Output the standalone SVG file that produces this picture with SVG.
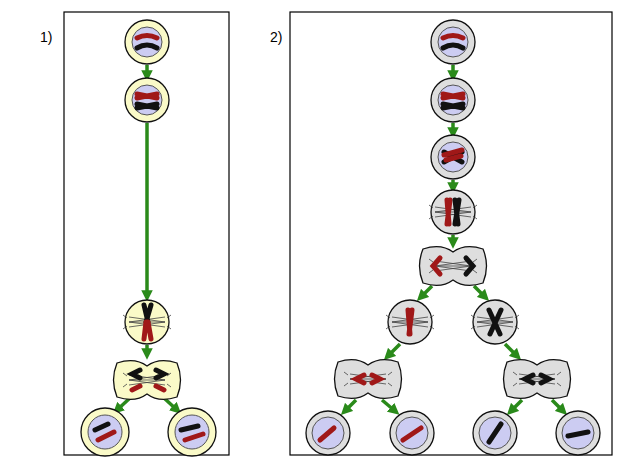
<svg xmlns="http://www.w3.org/2000/svg" width="617" height="467" viewBox="0 0 617 467">
<defs>
<style>
.panel{fill:#fff;stroke:#000;stroke-width:1.2}
.lbl{font-family:"Liberation Sans",Arial,sans-serif;font-size:14px}
.cy{fill:#fafac8;stroke:#111;stroke-width:1.3}
.gy{fill:#dedede;stroke:#111;stroke-width:1.3}
.nu{fill:#ccccf2;stroke:#555;stroke-width:1}
.red{stroke:#a01818;stroke-width:5;stroke-linecap:round;fill:none}
.blk{stroke:#111;stroke-width:5;stroke-linecap:round;fill:none}
.sp{stroke:#444;stroke-width:0.8;fill:none}
.ar{stroke:#2a8a1a;stroke-width:3.5;fill:none;marker-end:url(#ah)}
</style>
<marker id="ah" viewBox="0 0 10 10" refX="5" refY="5" markerWidth="3.3" markerHeight="3.3" orient="auto"><path d="M0,0L10,5L0,10z" fill="#2a8a1a"/></marker>
<path id="db" d="M-30,-17 Q-12,-23 0,-14 Q12,-23 30,-17 Q37,0 30,17 Q12,23 0,14 Q-12,23 -30,17 Q-37,0 -30,-17z"/>
<g id="spin"><path class="sp" d="M-18,0L18,0M-18,0L18,-5M-18,0L18,5M18,0L-18,-5M18,0L-18,5M-20,-4l-4,-3M-20,4l-4,3M20,-4l4,-3M20,4l4,3"/></g>
</defs>
<rect class="panel" x="64" y="12" width="165" height="443"/>
<rect class="panel" x="290" y="12" width="322" height="443"/>
<text class="lbl" x="40" y="42">1)</text>
<text class="lbl" x="270" y="42">2)</text>
<g id="connectors">
<path class="ar" d="M147,65V76"/>
<path class="ar" d="M147,123V296"/>
<path class="ar" d="M147,345V354"/>
<path class="ar" d="M130,398L117,410"/>
<path class="ar" d="M164,398L177,410"/>
<path class="ar" d="M453,65V76"/>
<path class="ar" d="M453,123V133"/>
<path class="ar" d="M453,180V188"/>
<path class="ar" d="M453,235V243"/>
<path class="ar" d="M432,286L421,297"/>
<path class="ar" d="M474,286L485,297"/>
<path class="ar" d="M400,344L388,356"/>
<path class="ar" d="M505,344L517,356"/>
<path class="ar" d="M356,400L345,411"/>
<path class="ar" d="M382,400L395,411"/>
<path class="ar" d="M522,400L511,411"/>
<path class="ar" d="M552,400L563,411"/>
</g>
<g id="p1c1"><circle class="cy" cx="147" cy="42" r="22"/><circle class="nu" cx="147" cy="42" r="15"/><path class="red" d="M137,38Q147,33 157,38"/><path class="blk" d="M137,48Q147,42 157,48"/></g>
<g id="p1c2"><circle class="cy" cx="147" cy="100" r="22"/><circle class="nu" cx="147" cy="100" r="15"/><path class="red" d="M137,94L157,98M137,98L157,94"/><path class="blk" d="M137,104L157,108M137,108L157,104"/></g>
<g id="p1c3"><circle class="cy" cx="147" cy="322" r="22"/><use href="#spin" x="147" y="322"/><path class="blk" d="M144,305L148,322M151,305L146,322"/><path class="red" d="M146,322L144,339M148,322L151,339"/></g>
<g id="p1c4"><use href="#db" x="147" y="380" class="cy"/><use href="#spin" x="147" y="380"/><path class="blk" d="M140,370L132,374L140,378M156,370L164,374L156,378"/><path class="red" d="M140,386L132,390M156,386L164,390"/></g>
<g id="p1c5"><circle class="cy" cx="105" cy="432" r="24"/><circle class="nu" cx="105" cy="432" r="17"/><path class="blk" d="M95,430L108,424"/><path class="red" d="M98,440L114,432"/></g>
<g id="p1c6"><circle class="cy" cx="192" cy="432" r="24"/><circle class="nu" cx="192" cy="432" r="17"/><path class="blk" d="M181,430L198,426"/><path class="red" d="M185,440L203,434"/></g>
<g id="p2c1"><circle class="gy" cx="453" cy="42" r="22"/><circle class="nu" cx="453" cy="42" r="15"/><path class="red" d="M443,38Q453,33 463,38"/><path class="blk" d="M443,48Q453,42 463,48"/></g>
<g id="p2c2"><circle class="gy" cx="453" cy="100" r="22"/><circle class="nu" cx="453" cy="100" r="15"/><path class="red" d="M443,94L463,98M443,98L463,94"/><path class="blk" d="M443,104L463,108M443,108L463,104"/></g>
<g id="p2c3"><circle class="gy" cx="453" cy="157" r="22"/><circle class="nu" cx="453" cy="157" r="15"/><path class="blk" d="M444,152L462,162M444,162L462,152"/><path class="red" d="M444,155L462,150M446,160L461,156"/></g>
<g id="p2c4"><circle class="gy" cx="453" cy="212" r="22"/><use href="#spin" x="453" y="212"/><path class="red" d="M447,200L449,224M450,200L447,224"/><path class="blk" d="M455,200L458,224M459,200L455,224"/></g>
<g id="p2c5"><use href="#db" x="453" y="266" class="gy"/><use href="#spin" x="453" y="266"/><path class="red" d="M440,258L433,266L440,274"/><path class="blk" d="M466,258L473,266L466,274"/></g>
<g id="p2c6"><circle class="gy" cx="410" cy="322" r="22"/><use href="#spin" x="410" y="322"/><path class="red" d="M408,310L410,334M412,310L409,334"/></g>
<g id="p2c7"><circle class="gy" cx="495" cy="322" r="22"/><use href="#spin" x="495" y="322"/><path class="blk" d="M489,310L500,334M501,310L490,334"/></g>
<g id="p2c8"><use href="#db" x="368" y="379" class="gy"/><use href="#spin" x="368" y="379"/><path class="red" d="M364,375L356,379L364,383M372,375L380,379L372,383"/></g>
<g id="p2c9"><use href="#db" x="537" y="379" class="gy"/><use href="#spin" x="537" y="379"/><path class="blk" d="M533,375L525,379L533,383M541,375L549,379L541,383"/></g>
<g id="p2c10"><circle class="gy" cx="328" cy="433" r="22"/><circle class="nu" cx="328" cy="433" r="16"/><path class="red" d="M320,440L334,428"/></g>
<g id="p2c11"><circle class="gy" cx="412" cy="433" r="22"/><circle class="nu" cx="412" cy="433" r="16"/><path class="red" d="M403,440L421,428"/></g>
<g id="p2c12"><circle class="gy" cx="495" cy="433" r="22"/><circle class="nu" cx="495" cy="433" r="16"/><path class="blk" d="M489,442L501,424"/></g>
<g id="p2c13"><circle class="gy" cx="578" cy="433" r="22"/><circle class="nu" cx="578" cy="433" r="16"/><path class="blk" d="M568,436L588,432"/></g>
</svg>
